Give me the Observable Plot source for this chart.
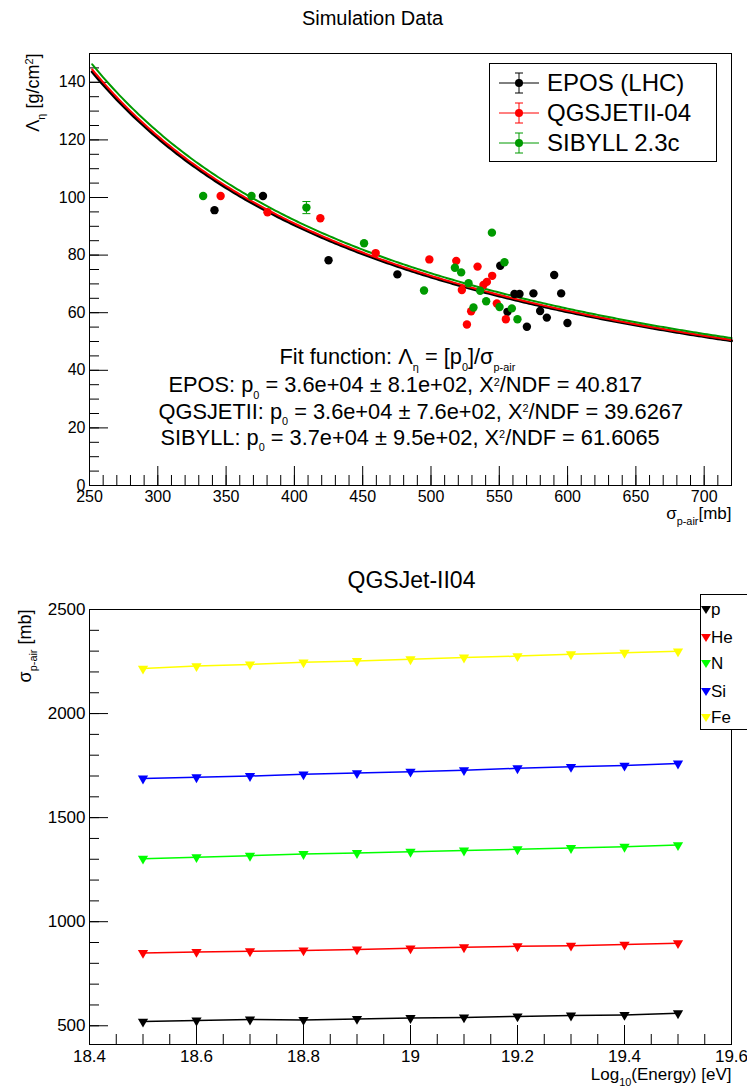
<!DOCTYPE html>
<html><head><meta charset="utf-8">
<script src="https://cdn.jsdelivr.net/npm/d3@7"></script>
<script src="https://cdn.jsdelivr.net/npm/@observablehq/plot@0.6"></script>
<style>
body{margin:0;background:#fff;font-family:"Liberation Sans",Arial,Helvetica,sans-serif;}
#wrap{position:relative;width:747px;height:1088px;overflow:hidden;}
#wrap svg{display:block}
.legend{position:absolute;background:#fff;border:1px solid #000;box-sizing:border-box;}
.legend .item{position:absolute;white-space:nowrap;line-height:1;}
.legend svg{position:absolute;overflow:visible}
</style></head><body><div id="wrap"></div>
<script>
// ---------- Top chart: Lambda_eta vs sigma_p-air ----------
const eposSigma = [341.5, 377, 425, 475.4, 550.7, 556, 561.1, 564.8, 570.2, 575, 579.9, 584.8, 590.2, 595.3, 599.9];
const eposLambda = [95.6, 100.5, 78.2, 73.3, 76.3, 60.3, 66.5, 66.5, 55.1, 66.7, 60.6, 58.3, 73.1, 66.7, 56.4];
const qgsSigma = [346, 380.3, 419, 459.5, 498.8, 518.5, 522.6, 526.3, 529.4, 534.1, 538.4, 540.9, 544.8, 548.2, 554.8];
const qgsLambda = [100.5, 94.9, 92.8, 80.7, 78.5, 78.0, 67.9, 55.9, 60.5, 76.0, 69.6, 70.7, 72.8, 63.2, 57.7];
const sibSigma = [333.2, 368.6, 408.8, 451, 494.9, 517.5, 522.1, 527.5, 531.1, 536, 540.4, 544.6, 550.2, 553.8, 559.2, 563.3];
const sibLambda = [100.5, 100.5, 96.5, 84.1, 67.7, 75.6, 74.0, 70.2, 61.8, 67.6, 64.0, 87.8, 62.0, 77.5, 61.5, 57.7];
const sibErr = [0, 0, 2.1, 0, 0, 0, 0, 0, 0, 0, 0, 0, 0, 0, 0, 0];
const modelNames = ["EPOS (LHC)", "QGSJETII-04", "SIBYLL 2.3c"];
const modelColors = ["#000000", "#ff0000", "#009a00"];
const fitP0 = [36200, 36400, 36850];           // fit parameter p0 per model
const fitRange = [252, 720];                    // sigma range of the fit curves
const fitTexts = [
  "Fit function: Λ_{η} = [p_{0}]/σ_{p-air}",
  "EPOS: p_{0} = 3.6e+04 ± 8.1e+02, Χ^{2}/NDF = 40.817",
  "QGSJETII: p_{0} = 3.6e+04 ± 7.6e+02, Χ^{2}/NDF = 39.6267",
  "SIBYLL: p_{0} = 3.7e+04 ± 9.5e+02, Χ^{2}/NDF = 61.6065"
];
const topXMajor = d3.range(250, 701, 50);
const topXMinor = d3.range(250, 721, 10);
const topYMajor = d3.range(0, 141, 20);
const topYMinor = d3.range(0, 151, 5);

// ---------- Bottom chart: QGSJet-II04 sigma vs energy ----------
const log10E = [18.5, 18.6, 18.7, 18.8, 18.9, 19.0, 19.1, 19.2, 19.3, 19.4, 19.5];
const sigP  = [520, 525, 530, 528, 533, 537, 540, 545, 549, 552, 560];
const sigHe = [850, 855, 858, 862, 867, 872, 877, 882, 885, 890, 897];
const sigN  = [1303, 1310, 1317, 1325, 1330, 1336, 1342, 1348, 1354, 1360, 1368];
const sigSi = [1688, 1694, 1700, 1708, 1714, 1721, 1728, 1737, 1744, 1750, 1760];
const sigFe = [2216, 2228, 2236, 2246, 2253, 2261, 2269, 2276, 2285, 2292, 2299];
const elements = ["p", "He", "N", "Si", "Fe"];
const elementColors = ["#000000", "#ff0000", "#00ff00", "#0000ff", "#ffff00"];
const botXMajor = [18.4, 18.6, 18.8, 19, 19.2, 19.4, 19.6];
const botXLabels = ["18.4", "18.6", "18.8", "19", "19.2", "19.4", "19.6"];
const botXMinor = d3.range(0, 25).map(i => +(18.4 + i * 0.05).toFixed(2));
const botYMajor = [500, 1000, 1500, 2000, 2500];
const botYMinor = d3.range(500, 2501, 100);

// ---------- helpers ----------
const FONT = "Liberation Sans, Arial, Helvetica, sans-serif";
const SVGNS = "http://www.w3.org/2000/svg";
function richText(svg) {
  svg.querySelectorAll("text").forEach(t => {
    const s = t.textContent;
    if (!/[_^]\{/.test(s)) return;
    const fs = parseFloat(t.getAttribute("font-size") || getComputedStyle(t).fontSize) || 16;
    t.textContent = "";
    const re = /([_^])\{([^}]*)\}/g;
    let last = 0, m, cur = 0;
    const add = (str, kind) => {
      const ts = document.createElementNS(SVGNS, "tspan");
      ts.textContent = str;
      let target = 0;
      if (kind === "_") { target = 0.38 * fs; ts.setAttribute("font-size", (0.68 * fs) + "px"); }
      if (kind === "^") { target = -0.42 * fs; ts.setAttribute("font-size", (0.68 * fs) + "px"); }
      if (target !== cur) ts.setAttribute("dy", (target - cur) + "px");
      cur = target;
      t.appendChild(ts);
    };
    while ((m = re.exec(s))) {
      if (m.index > last) add(s.slice(last, m.index), null);
      add(m[2], m[1]);
      last = re.lastIndex;
    }
    if (last < s.length) add(s.slice(last), null);
  });
}

const wrap = document.getElementById("wrap");

// ---------- top chart ----------
const topSeries = [
  {x: eposSigma, y: eposLambda, err: eposSigma.map(() => 0)},
  {x: qgsSigma, y: qgsLambda, err: qgsSigma.map(() => 0)},
  {x: sibSigma, y: sibLambda, err: sibErr}
].map((s, k) => s.x.map((x, i) => ({model: modelNames[k], sigma: x, lambda: s.y[i], err: s.err[i], k})));

const sigmaGrid = d3.range(fitRange[0], fitRange[1] + 0.001, 2);
const fitCurves = fitP0.map((p0, k) => sigmaGrid.map(s => ({sigma: s, lambda: p0 / s, k})));

const W = 747, H1 = 550, ML = 89, MR = 16, MT1 = 53, MB1 = 65;
const FW = W - ML - MR, FH1 = H1 - MT1 - MB1;
const capSymbol = {draw(ctx, size) { const r = Math.sqrt(size / Math.PI); ctx.moveTo(-r, 0); ctx.lineTo(r, 0); }};

const topMarks = [
  Plot.ruleX(topXMajor, {insetTop: FH1 - 19, stroke: "#000"}),
  Plot.ruleX(topXMinor, {insetTop: FH1 - 10, stroke: "#000"}),
  Plot.ruleY(topYMajor, {insetRight: FW - 19, stroke: "#000"}),
  Plot.ruleY(topYMinor, {insetRight: FW - 10, stroke: "#000"}),
  Plot.axisX(topXMajor, {tickSize: 0, tickPadding: 5, label: null, fontSize: 16, fill: "#000", tickFormat: d3.format("d")}),
  Plot.axisY(topYMajor, {tickSize: 0, tickPadding: 4, label: null, fontSize: 16, fill: "#000", tickFormat: d3.format("d")})
];
fitCurves.forEach((c, k) => topMarks.push(Plot.line(c, {x: "sigma", y: "lambda", stroke: modelColors[k], strokeWidth: k === 0 ? 3 : 2})));
topSeries.forEach((s, k) => {
  const withErr = s.filter(d => d.err > 0);
  topMarks.push(Plot.ruleX(withErr, {x: "sigma", y1: d => d.lambda - d.err, y2: d => d.lambda + d.err, stroke: modelColors[k]}));
  topMarks.push(Plot.dot(withErr, {x: "sigma", y: d => d.lambda - d.err, symbol: capSymbol, r: 4, stroke: modelColors[k], strokeWidth: 1}));
  topMarks.push(Plot.dot(withErr, {x: "sigma", y: d => d.lambda + d.err, symbol: capSymbol, r: 4, stroke: modelColors[k], strokeWidth: 1}));
  topMarks.push(Plot.dot(s, {x: "sigma", y: "lambda", r: 4.2, fill: modelColors[k], stroke: null}));
});
topMarks.push(Plot.frame({stroke: "#000", strokeWidth: 1}));
// texts
topMarks.push(Plot.text(["Simulation Data"], {frameAnchor: "top", dx: 372 - (ML + FW / 2), dy: 18 - MT1, lineAnchor: "middle", fontSize: 20, fill: "#000"}));
topMarks.push(Plot.text(["Λ_{η} [g/cm^{2}]"], {frameAnchor: "top-left", dx: 33 - ML, dy: 0, rotate: -90, textAnchor: "end", lineAnchor: "middle", fontSize: 18, fill: "#000"}));
topMarks.push(Plot.text(["σ_{p-air}[mb]"], {frameAnchor: "bottom-right", dx: 0, dy: 513 - (MT1 + FH1), textAnchor: "end", lineAnchor: "middle", fontSize: 17, fill: "#000"}));
const fitTextX = [279, 168, 158, 160];
const fitTextY = [357, 385, 411.5, 437.5];
fitTexts.forEach((t, i) => topMarks.push(Plot.text([t], {frameAnchor: "top-left", dx: fitTextX[i] - ML, dy: fitTextY[i] - MT1, textAnchor: "start", lineAnchor: "middle", fontSize: 21.8, fill: "#000"})));

const topPlot = Plot.plot({
  width: W, height: H1, marginLeft: ML, marginRight: MR, marginTop: MT1, marginBottom: MB1,
  x: {domain: [250, 720]}, y: {domain: [0, 150]},
  style: {fontFamily: FONT, background: "#fff", overflow: "visible", color: "#000"},
  marks: topMarks
});
richText(topPlot);
wrap.appendChild(topPlot);

// ---------- bottom chart ----------
const H2 = 538, MT2 = 59, MB2 = 44;
const FH2 = H2 - MT2 - MB2;
const sigmaSets = [sigP, sigHe, sigN, sigSi, sigFe];
const botData = sigmaSets.map((arr, k) => arr.map((v, i) => ({el: elements[k], e: log10E[i], sigma: v, k})));
const botMarks = [
  Plot.ruleX(botXMajor, {insetTop: FH2 - 19, stroke: "#000"}),
  Plot.ruleX(botXMinor, {insetTop: FH2 - 10, stroke: "#000"}),
  Plot.ruleY(botYMajor, {insetRight: FW - 19, stroke: "#000"}),
  Plot.ruleY(botYMinor, {insetRight: FW - 10, stroke: "#000"}),
  Plot.axisX(botXMajor, {tickSize: 0, tickPadding: 5, label: null, fontSize: 17, fill: "#000", tickFormat: (d, i) => botXLabels[i]}),
  Plot.axisY(botYMajor, {tickSize: 0, tickPadding: 4, label: null, fontSize: 17, fill: "#000", tickFormat: d3.format("d")})
];
botData.forEach((s, k) => {
  botMarks.push(Plot.line(s, {x: "e", y: "sigma", stroke: elementColors[k], strokeWidth: 1.5}));
  botMarks.push(Plot.dot(s, {x: "e", y: "sigma", symbol: "triangle", rotate: 180, r: 3.8, fill: elementColors[k], stroke: null}));
});
botMarks.push(Plot.frame({stroke: "#000", strokeWidth: 1}));
botMarks.push(Plot.text(["QGSJet-II04"], {frameAnchor: "top", dx: 411 - (ML + FW / 2), dy: 580 - 609, lineAnchor: "middle", fontSize: 23, fill: "#000"}));
botMarks.push(Plot.text(["σ_{p-air} [mb]"], {frameAnchor: "top-left", dx: 25 - ML, dy: 0, rotate: -90, textAnchor: "end", lineAnchor: "middle", fontSize: 18, fill: "#000"}));
botMarks.push(Plot.text(["Log_{10}(Energy) [eV]"], {frameAnchor: "bottom-right", dx: 0, dy: 1074 - 1044, textAnchor: "end", lineAnchor: "middle", fontSize: 17, fill: "#000"}));

const botPlot = Plot.plot({
  width: W, height: H2, marginLeft: ML, marginRight: MR, marginTop: MT2, marginBottom: MB2,
  x: {domain: [18.4, 19.6]}, y: {domain: [410, 2500]},
  style: {fontFamily: FONT, background: "#fff", overflow: "visible", color: "#000"},
  marks: botMarks
});
richText(botPlot);
wrap.appendChild(botPlot);

// ---------- legends (HTML overlays) ----------
function addTopLegend() {
  const box = document.createElement("div");
  box.className = "legend";
  Object.assign(box.style, {left: "489px", top: "63px", width: "228px", height: "99px"});
  modelNames.forEach((name, k) => {
    const cy = 19 + 30 * k;
    const svg = document.createElementNS(SVGNS, "svg");
    svg.setAttribute("width", 60); svg.setAttribute("height", 30);
    svg.style.left = "0px"; svg.style.top = (cy - 15) + "px";
    const c = modelColors[k];
    svg.innerHTML = `<line x1="9" x2="49" y1="15" y2="15" stroke="${c}" stroke-width="1"/>
      <line x1="29" x2="29" y1="5" y2="25" stroke="${c}" stroke-width="1"/>
      <line x1="25" x2="33" y1="5" y2="5" stroke="${c}" stroke-width="1"/>
      <line x1="25" x2="33" y1="25" y2="25" stroke="${c}" stroke-width="1"/>
      <circle cx="29" cy="15" r="4" fill="${c}"/>`;
    box.appendChild(svg);
    const it = document.createElement("div");
    it.className = "item";
    it.textContent = name;
    Object.assign(it.style, {left: "57px", top: (cy - 12) + "px", fontSize: "24px", height: "24px", lineHeight: "24px"});
    box.appendChild(it);
  });
  wrap.appendChild(box);
}
function addBottomLegend() {
  const box = document.createElement("div");
  box.className = "legend";
  Object.assign(box.style, {left: "700px", top: "594px", width: "60px", height: "136px"});
  const ys = [15, 43, 69, 97, 123];
  elements.forEach((name, k) => {
    const cy = ys[k];
    const svg = document.createElementNS(SVGNS, "svg");
    svg.setAttribute("width", 12); svg.setAttribute("height", 12);
    svg.style.left = "0px"; svg.style.top = (cy - 6) + "px";
    svg.innerHTML = `<path d="M0,2 L10,2 L5,10 Z" fill="${elementColors[k]}"/>`;
    box.appendChild(svg);
    const it = document.createElement("div");
    it.className = "item";
    it.textContent = name;
    Object.assign(it.style, {left: "10px", top: (cy - 9) + "px", fontSize: "17px", height: "18px", lineHeight: "18px"});
    box.appendChild(it);
  });
  wrap.appendChild(box);
}
addTopLegend();
addBottomLegend();
</script></body></html>
